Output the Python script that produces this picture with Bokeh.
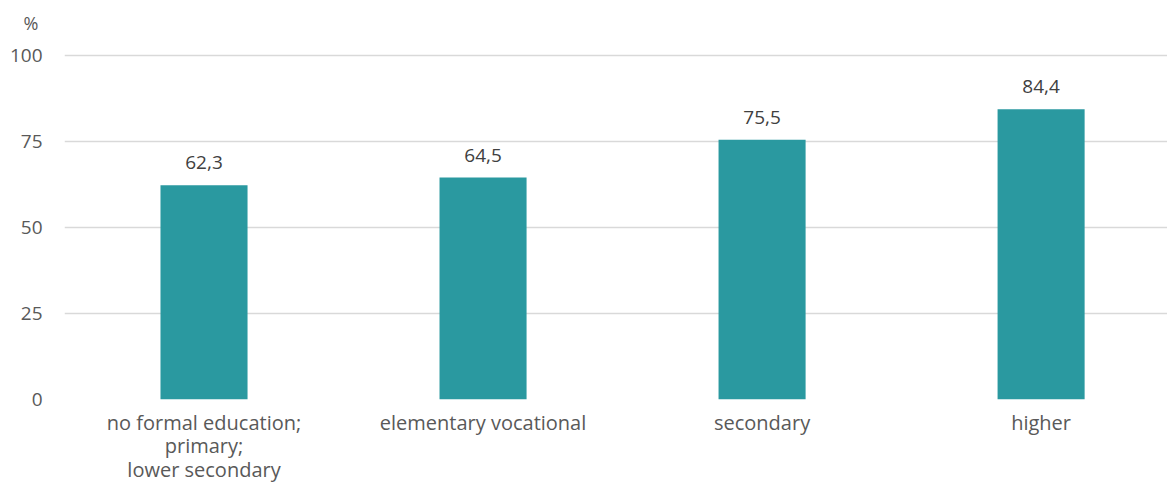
from bokeh.plotting import figure
from bokeh.models import ColumnDataSource, Range1d, FixedTicker
from bokeh.embed import file_html
from bokeh.resources import INLINE
from bokeh.core.properties import value

categories = ["no formal education;\nprimary;\nlower secondary", "elementary vocational", "secondary", "higher"]
values = [62.3, 64.5, 75.5, 84.4]
labels = ["62,3", "64,5", "75,5", "84,4"]
y_ticks = [0, 25, 50, 75, 100]
unit_label = "%"

FONT = "Open Sans"
xs = list(range(len(categories)))
src = ColumnDataSource(dict(x=xs, top=values, lab=labels))

p = figure(width=1167, height=486, output_backend="svg", toolbar_location=None,
           title=unit_label,
           x_range=Range1d(-0.5, 3.453), y_range=Range1d(0, 104.36),
           min_border_left=64, min_border_right=0, min_border_top=40, min_border_bottom=87)
p.outline_line_color = None
p.background_fill_color = "white"
p.border_fill_color = "white"

p.title.align = "left"
p.title.offset = -41
p.title.text_font = FONT
p.title.text_font_size = "18px"
p.title.text_font_style = "normal"
p.title.text_color = "#595959"
p.title.standoff = 11

p.vbar(x="x", top="top", width=0.312, source=src, color="#2A99A0", line_color=None)
p.text(x="x", y="top", text="lab", source=src, text_align="center", text_baseline="bottom",
       y_offset=-16, text_font=value(FONT), text_font_size="19px", text_color="#404040")

p.xgrid.visible = False
p.ygrid.grid_line_color = "#D9D9D9"
p.ygrid.grid_line_width = 1.5
p.yaxis.ticker = FixedTicker(ticks=y_ticks)
p.xaxis.ticker = FixedTicker(ticks=xs)
p.xaxis.major_label_overrides = {i: c for i, c in enumerate(categories)}

for ax in (p.xaxis, p.yaxis):
    ax.axis_line_color = None
    ax.major_tick_line_color = None
    ax.minor_tick_line_color = None
    ax.major_label_text_font = FONT
    ax.major_label_text_color = "#595959"
p.yaxis.major_label_text_font_size = "19px"
p.xaxis.major_label_text_font_size = "20px"
p.xaxis.major_label_text_line_height = 0.88
p.yaxis.major_label_standoff = 16
p.xaxis.major_label_standoff = 3

open("out.html", "w").write(file_html(p, INLINE))
